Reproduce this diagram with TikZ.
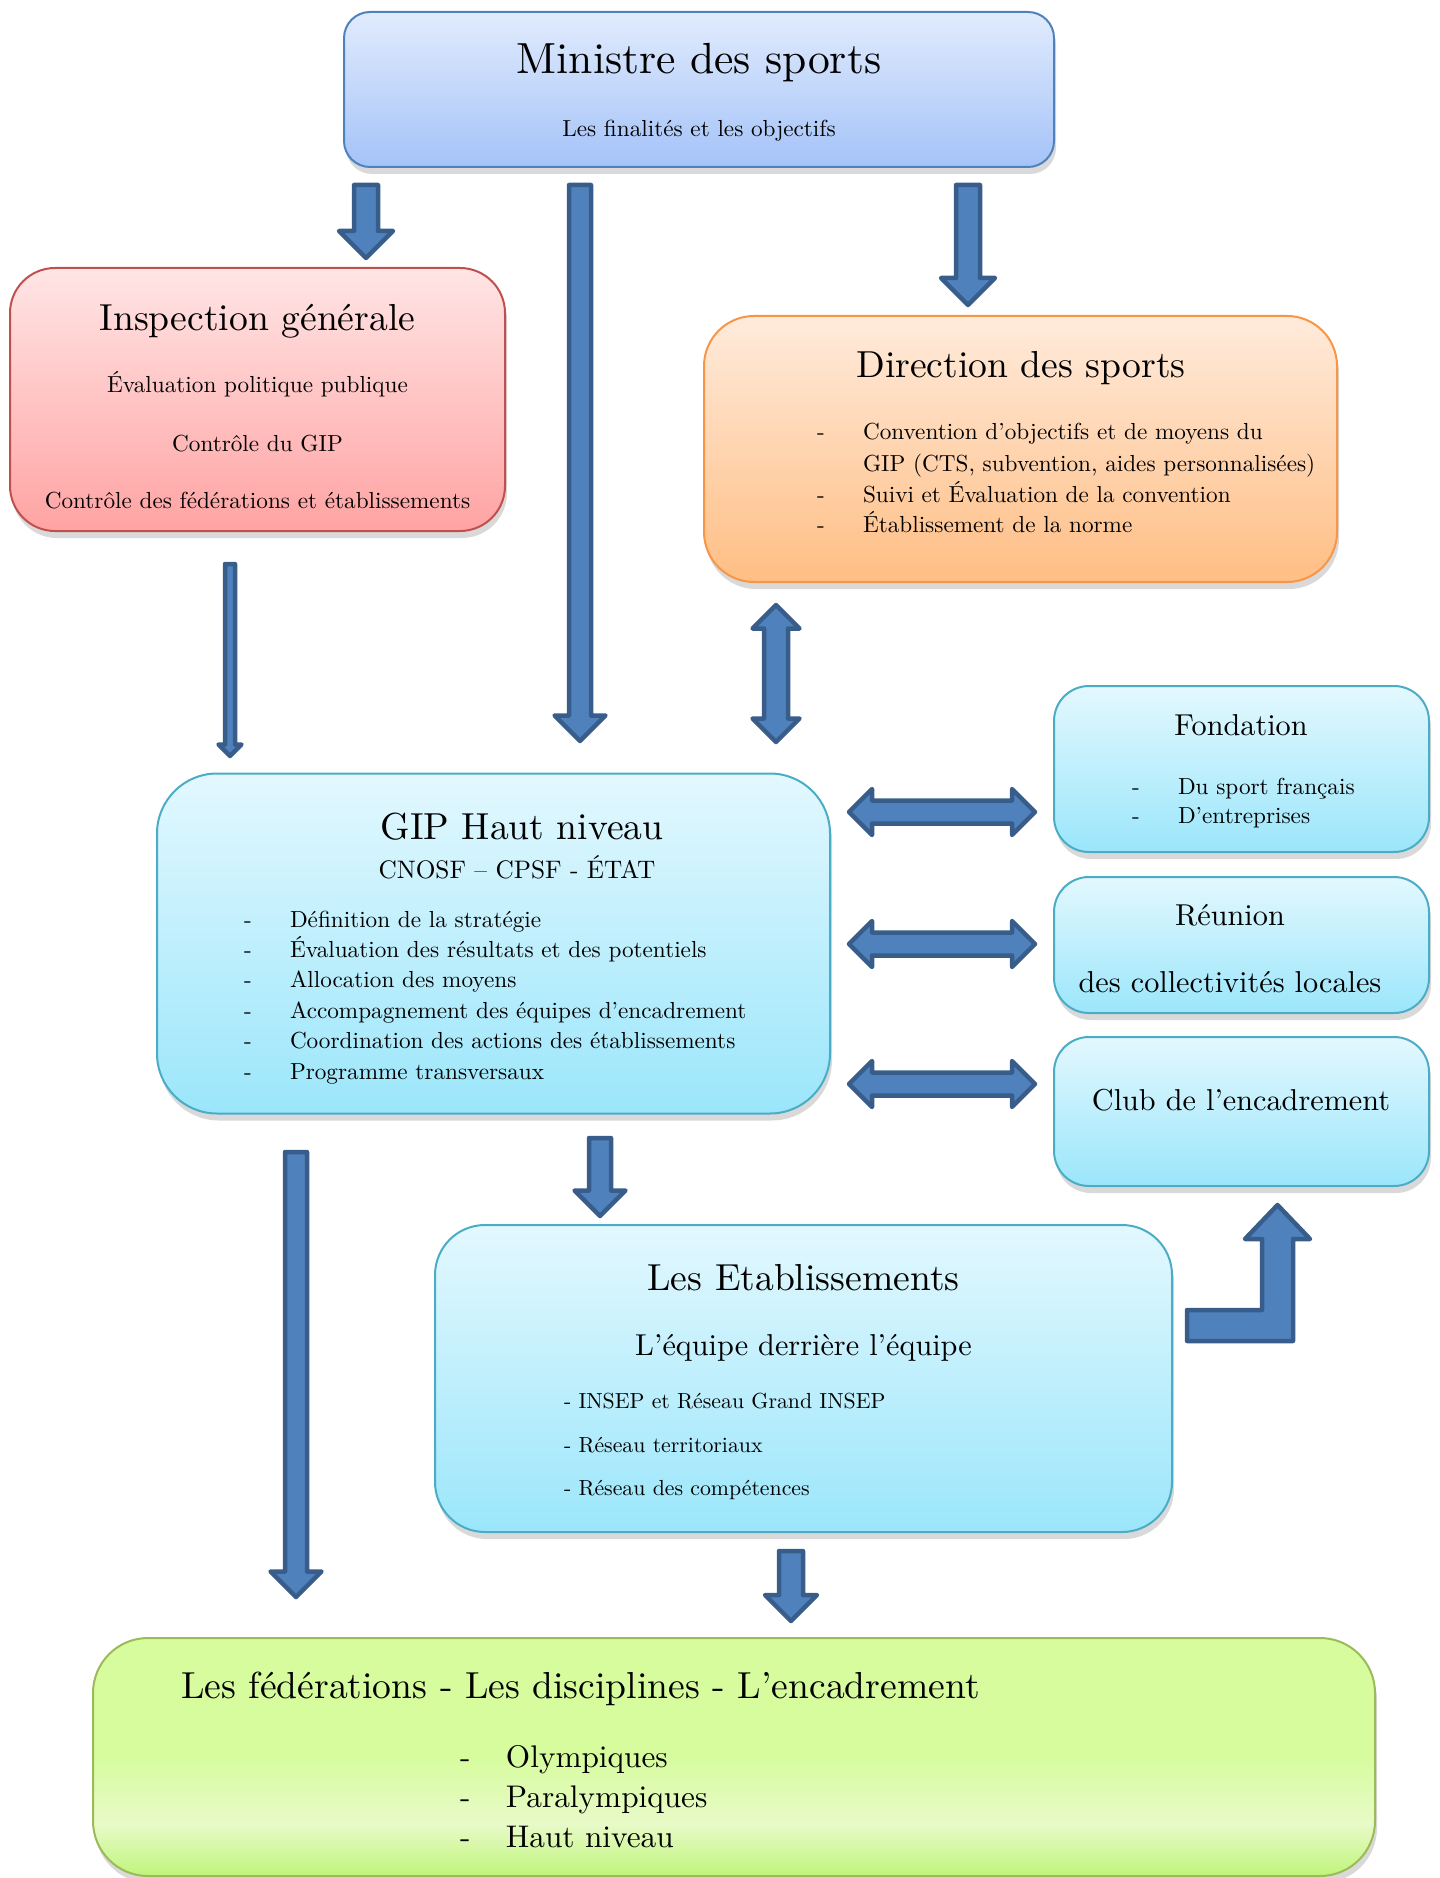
\documentclass[tikz,border=0pt]{standalone}
\usepackage{fontspec}
\setmainfont{lmroman10-regular.otf}
\usetikzlibrary{calc,shadows}

\definecolor{mintop}{RGB}{225,235,253}
\definecolor{minbot}{RGB}{164,195,248}
\definecolor{minline}{RGB}{79,129,189}
\definecolor{insptop}{RGB}{255,229,229}
\definecolor{inspbot}{RGB}{255,163,163}
\definecolor{inspline}{RGB}{192,80,77}
\definecolor{dirtop}{RGB}{255,235,220}
\definecolor{dirbot}{RGB}{255,190,132}
\definecolor{dirline}{RGB}{247,150,70}
\definecolor{cyantop}{RGB}{227,248,254}
\definecolor{cyanbot}{RGB}{155,230,251}
\definecolor{cyanline}{RGB}{75,172,198}
\definecolor{fedtop}{RGB}{215,252,158}
\definecolor{fedmid}{RGB}{232,250,200}
\definecolor{fedbot}{RGB}{192,245,122}
\definecolor{fedline}{RGB}{155,187,89}
\definecolor{arrfill}{RGB}{79,129,189}
\definecolor{arrline}{RGB}{56,93,138}

\pgfdeclareverticalshading{fedshading}{100bp}{color(0bp)=(fedbot); color(25bp)=(fedbot); color(36bp)=(fedmid); color(50bp)=(fedtop); color(100bp)=(fedtop)}

\newcommand{\dashitem}[1]{\makebox[4.6mm][l]{-}#1}

\newcommand{\blkdown}[4]{%
  \draw[blkarrow] let \p1=(#1), \p2=(#2) in
    ({\x1-#3},\y1) -- ({\x1+#3},\y1) -- ({\x1+#3},{\y2+#4}) -- ({\x1+#4},{\y2+#4})
    -- (\x1,\y2) -- ({\x1-#4},{\y2+#4}) -- ({\x1-#3},{\y2+#4}) -- cycle;}

\newcommand{\blkvboth}[4]{%
  \draw[blkarrow] let \p1=(#1), \p2=(#2) in
    (\x1,\y1) -- ({\x1+#4},{\y1-#4}) -- ({\x1+#3},{\y1-#4}) -- ({\x1+#3},{\y2+#4})
    -- ({\x1+#4},{\y2+#4}) -- (\x1,\y2) -- ({\x1-#4},{\y2+#4}) -- ({\x1-#3},{\y2+#4})
    -- ({\x1-#3},{\y1-#4}) -- ({\x1-#4},{\y1-#4}) -- cycle;}

\newcommand{\blkhboth}[4]{%
  \draw[blkarrow] let \p1=(#1), \p2=(#2) in
    (\x1,\y1) -- ({\x1+#4},{\y1+#4}) -- ({\x1+#4},{\y1+#3}) -- ({\x2-#4},{\y1+#3})
    -- ({\x2-#4},{\y1+#4}) -- (\x2,\y1) -- ({\x2-#4},{\y1-#4}) -- ({\x2-#4},{\y1-#3})
    -- ({\x1+#4},{\y1-#3}) -- ({\x1+#4},{\y1-#4}) -- cycle;}

\tikzset{
  box/.style={draw, line width=0.2mm, inner sep=0pt,
    drop shadow={opacity=0.3, shadow xshift=0.2mm, shadow yshift=-0.7mm}},
  bluebox/.style={box, draw=minline, top color=mintop, bottom color=minbot, rounded corners=2.6mm},
  redbox/.style={box, draw=inspline, top color=insptop, bottom color=inspbot, rounded corners=4.5mm},
  orangebox/.style={box, draw=dirline, top color=dirtop, bottom color=dirbot, rounded corners=5mm},
  cyanbox/.style={box, draw=cyanline, top color=cyantop, bottom color=cyanbot, rounded corners=#1},
  cyanbox/.default=3.5mm,
  greenbox/.style={box, draw=fedline, shade, shading=fedshading, rounded corners=5.5mm},
  blkarrow/.style={fill=arrfill, draw=arrline, line width=0.45mm, line join=round},
  label/.style={anchor=base, inner sep=0pt, outer sep=0pt},
  toptitle/.style={label, font=\fontsize{12.4}{15}\selectfont},
  bigtitle/.style={label, font=\fontsize{10.7}{13}\selectfont},
  midtext/.style={label, font=\fontsize{8.6}{10}\selectfont},
  cnosftext/.style={label, font=\fontsize{7.2}{8.5}\selectfont},
  bodytext/.style={label, font=\fontsize{6.6}{8}\selectfont},
  itemtext/.style={bodytext, anchor=base west},
  smallitem/.style={label, anchor=base west, font=\fontsize{6.2}{8}\selectfont},
  miditem/.style={label, anchor=base west, font=\fontsize{8.9}{10}\selectfont}
}

\begin{document}
\begin{tikzpicture}[x=0.1mm, y=-0.1mm]
\useasboundingbox (0,0) rectangle (1439,1878);

\node[bluebox, minimum width=71mm, minimum height=15.5mm] (ministre) at (699,89.5) {};
\node[toptitle] (ministretitle) at (699,74) {Ministre des sports};
\node[bodytext] (ministresub) at (699,137) {Les finalités et les objectifs};

\node[redbox, minimum width=49.5mm, minimum height=26.3mm] (inspection) at (257.5,399.5) {};
\node[bigtitle] (inspectiontitle) at (257.5,331) {Inspection générale};
\node[bodytext] (inspection1) at (257.5,393) {Évaluation politique publique};
\node[bodytext] (inspection2) at (257.5,451) {Contrôle du GIP};
\node[bodytext] (inspection3) at (257.5,508) {Contrôle des fédérations et établissements};

\node[orangebox, minimum width=63.3mm, minimum height=26.6mm] (direction) at (1020.5,449) {};
\node[bigtitle] (directiontitle) at (1021,378) {Direction des sports};
\node[itemtext] (direction1) at (817,440) {\dashitem{Convention d’objectifs et de moyens du}};
\node[itemtext] (direction1b) at (863,472) {GIP (CTS, subvention, aides personnalisées)};
\node[itemtext] (direction2) at (817,502) {\dashitem{Suivi et Évaluation de la convention}};
\node[itemtext] (direction3) at (817,532) {\dashitem{Établissement de la norme}};

\node[cyanbox=6mm, minimum width=67.3mm, minimum height=34mm] (gip) at (493.5,943.5) {};
\node[bigtitle] (giptitle) at (522,839) {GIP Haut niveau};
\node[cnosftext] (gipsub) at (517,878) {CNOSF – CPSF - ÉTAT};
\foreach \txt [count=\i from 0] in {Définition de la stratégie, Évaluation des résultats et des potentiels,
    Allocation des moyens, Accompagnement des équipes d’encadrement,
    Coordination des actions des établissements, Programme transversaux}
  \node[itemtext] (gipitem\i) at (244,{927+30.4*\i}) {\dashitem{\txt}};

\node[cyanbox, minimum width=37.5mm, minimum height=16.6mm] (fondation) at (1241.5,769) {};
\node[midtext] (fondationtitle) at (1241,735) {Fondation};
\node[itemtext] (fondation1) at (1132,794) {\dashitem{Du sport français}};
\node[itemtext] (fondation2) at (1132,823) {\dashitem{D’entreprises}};

\node[cyanbox, minimum width=37.5mm, minimum height=13.6mm] (reunion) at (1241.5,945) {};
\node[midtext] (reuniontitle) at (1230,925) {Réunion};
\node[midtext] (reunionsub) at (1230,992) {des collectivités locales};

\node[cyanbox, minimum width=37.5mm, minimum height=14.9mm] (club) at (1241.5,1111.5) {};
\node[midtext] (clubtitle) at (1241,1110) {Club de l’encadrement};

\node[cyanbox=5mm, minimum width=73.7mm, minimum height=30.7mm] (etablissements) at (803.5,1378.5) {};
\node[bigtitle] (etabtitle) at (803.5,1290) {Les Etablissements};
\node[midtext] (etabsub) at (803.5,1355) {L’équipe derrière l’équipe};
\node[smallitem] (etab1) at (564,1408) {- INSEP et Réseau Grand INSEP};
\node[smallitem] (etab2) at (564,1452) {- Réseau territoriaux};
\node[smallitem] (etab3) at (564,1495) {- Réseau des compétences};

\node[greenbox, minimum width=128.2mm, minimum height=23.8mm] (federations) at (734,1757) {};
\node[bigtitle, anchor=base west] (fedtitle) at (181,1698) {Les fédérations - Les disciplines - L’encadrement};
\foreach \txt [count=\i] in {Olympiques, Paralympiques, Haut niveau}
  \node[miditem] (fed\i) at (460,{1727+40*\i}) {\dashitem{\txt}};

\coordinate (toinspA) at (366,185);
\coordinate (toinspB) at (366,258);
\blkdown{toinspA}{toinspB}{1.2mm}{2.7mm}
\coordinate (togipA) at (580,185);
\coordinate (togipB) at (580,741);
\blkdown{togipA}{togipB}{1.1mm}{2.55mm}
\coordinate (todirA) at (968,185);
\coordinate (todirB) at (968,305);
\blkdown{todirA}{todirB}{1.2mm}{2.7mm}
\coordinate (inspgipA) at (230,564);
\coordinate (inspgipB) at (230,756);
\blkdown{inspgipA}{inspgipB}{0.5mm}{1.15mm}
\coordinate (dirgipA) at (776,605);
\coordinate (dirgipB) at (776,742);
\blkvboth{dirgipA}{dirgipB}{1.2mm}{2.35mm}
\foreach \yy/\side in {812/fondation, 944/reunion, 1084/club} {
  \coordinate (\side left) at (849,\yy);
  \coordinate (\side right) at (1035,\yy);
  \blkhboth{\side left}{\side right}{1.15mm}{2.3mm}
}
\coordinate (toetabA) at (600,1138);
\coordinate (toetabB) at (600,1216);
\blkdown{toetabA}{toetabB}{1.1mm}{2.55mm}
\coordinate (gipfedA) at (296,1152);
\coordinate (gipfedB) at (296,1597);
\blkdown{gipfedA}{gipfedB}{1.1mm}{2.55mm}
\coordinate (etabfedA) at (791,1551);
\coordinate (etabfedB) at (791,1621);
\blkdown{etabfedA}{etabfedB}{1.2mm}{2.6mm}
\draw[blkarrow] (1187,1310) -- (1262,1310) -- (1262,1239) -- (1245,1239) -- (1277.5,1205)
  -- (1310,1239) -- (1293,1239) -- (1293,1341) -- (1187,1341) -- cycle;
\end{tikzpicture}
\end{document}
